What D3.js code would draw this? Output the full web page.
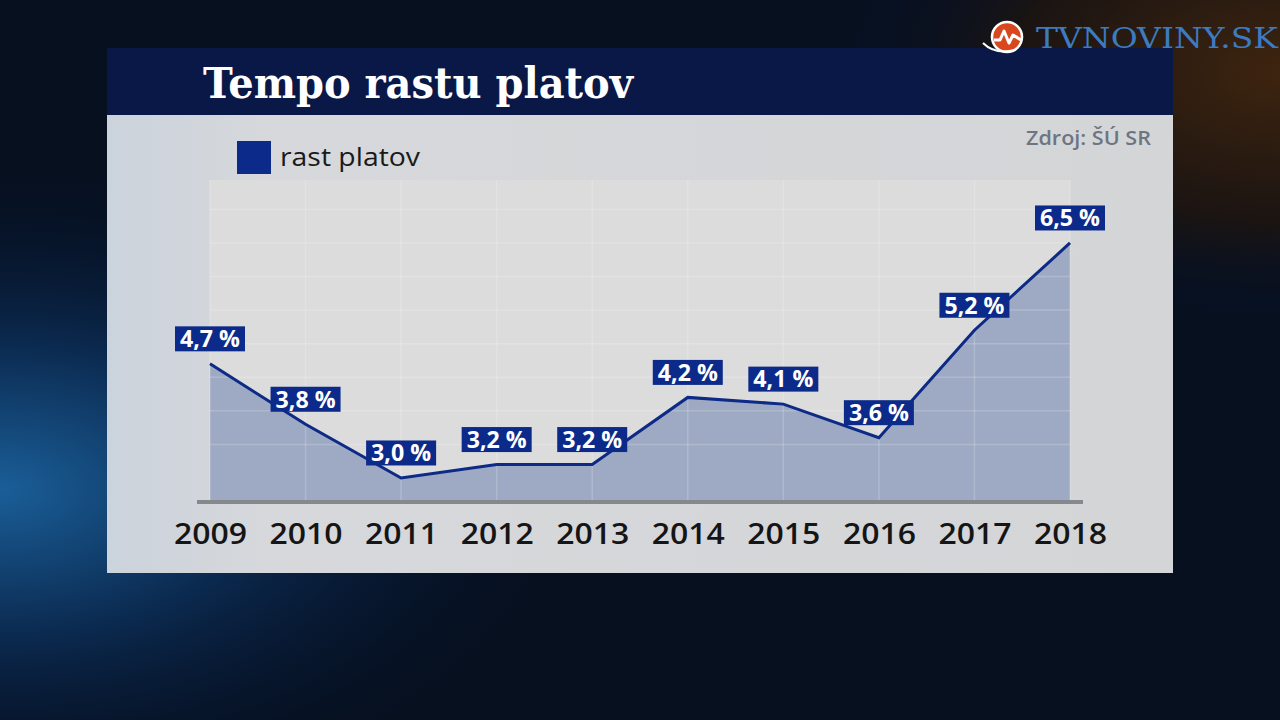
<!DOCTYPE html>
<html lang="sk">
<head>
    <meta charset="utf-8">
    <script src="https://d3js.org/d3.v7.min.js"></script>
    <style>
        body { margin: 0; background: #06112a; overflow: hidden; }
    </style>
</head>
<body>
    <svg id="chart"></svg>

    <script type="text/javascript" charset="utf-8">
        // data
        const years = ["2009", "2010", "2011", "2012", "2013", "2014", "2015", "2016", "2017", "2018"];
        const rastPlatov = [4.7, 3.8, 3.0, 3.2, 3.2, 4.2, 4.1, 3.6, 5.2, 6.5];
        const gridValues = [3.5, 4.0, 4.5, 5.0, 5.5, 6.0, 6.5, 7.0];

        const W = 1280, H = 720;
        const svg = d3.select("#chart").attr("width", W).attr("height", H);
        const defs = svg.append("defs");

        // background glows
        const glowBlue = defs.append("radialGradient").attr("id", "glowBlue")
            .attr("cx", 0).attr("cy", 0.68).attr("r", 0.45);
        glowBlue.append("stop").attr("offset", "0%").attr("stop-color", "#1a5e98");
        glowBlue.append("stop").attr("offset", "45%").attr("stop-color", "#0b2a50");
        glowBlue.append("stop").attr("offset", "100%").attr("stop-color", "#06112a").attr("stop-opacity", 0);

        const glowBrown = defs.append("radialGradient").attr("id", "glowBrown")
            .attr("cx", 1).attr("cy", 0.1).attr("r", 0.35);
        glowBrown.append("stop").attr("offset", "0%").attr("stop-color", "#3e240f");
        glowBrown.append("stop").attr("offset", "60%").attr("stop-color", "#1a1412");
        glowBrown.append("stop").attr("offset", "100%").attr("stop-color", "#06112a").attr("stop-opacity", 0);

        svg.append("rect").attr("width", W).attr("height", H).attr("fill", "#06101f");
        svg.append("rect").attr("width", W).attr("height", H).attr("fill", "url(#glowBrown)");
        svg.append("rect").attr("width", W).attr("height", H).attr("fill", "url(#glowBlue)");

        // panel
        const panelGrad = defs.append("linearGradient").attr("id", "panelGrad")
            .attr("x1", 0).attr("x2", 1).attr("y1", 0).attr("y2", 0);
        panelGrad.append("stop").attr("offset", "0%").attr("stop-color", "#cbd3dc");
        panelGrad.append("stop").attr("offset", "15%").attr("stop-color", "#d6d8db");
        panelGrad.append("stop").attr("offset", "100%").attr("stop-color", "#d4d5d7");

        svg.append("rect").attr("x", 107).attr("y", 115).attr("width", 1066).attr("height", 458)
            .attr("fill", "url(#panelGrad)");

        // title bar
        svg.append("rect").attr("x", 107).attr("y", 48).attr("width", 1066).attr("height", 67)
            .attr("fill", "#0a1848");
        svg.append("text")
            .attr("x", 203).attr("y", 98)
            .attr("font-family", "DejaVu Serif")
            .attr("font-weight", "bold")
            .attr("font-size", 42)
            .attr("textLength", 430)
            .attr("lengthAdjust", "spacingAndGlyphs")
            .attr("fill", "#ffffff")
            .text("Tempo rastu platov");

        // logo
        const logo = svg.append("g");
        logo.append("circle").attr("cx", 1007).attr("cy", 37).attr("r", 15).attr("fill", "#d8471e")
            .attr("stroke", "#ffffff").attr("stroke-width", 2.5);
        logo.append("path").attr("d", "M994,40 L1000,40 L1004,31 L1009,43 L1013,35 L1021,40")
            .attr("fill", "none").attr("stroke", "#ffffff").attr("stroke-width", 3)
            .attr("stroke-linejoin", "round");
        logo.append("path").attr("d", "M983,43 Q995,55 1015,50")
            .attr("fill", "none").attr("stroke", "#ffffff").attr("stroke-width", 2);
        logo.append("text")
            .attr("x", 1036).attr("y", 48)
            .attr("font-family", "DejaVu Serif")
            .attr("font-size", 27)
            .attr("textLength", 242)
            .attr("lengthAdjust", "spacingAndGlyphs")
            .attr("fill", "#3c7bc2")
            .text("TVNOVINY.SK");

        // scales
        const x = d3.scalePoint().domain(years).range([210, 1070]);
        const y = d3.scaleLinear().domain([2.672, 7.438]).range([500, 180]);

        // plot background
        svg.append("rect").attr("x", 210).attr("y", 180).attr("width", 860).attr("height", 320)
            .attr("fill", "#dcdcdc");

        const data = years.map((yr, i) => ({ year: yr, value: rastPlatov[i] }));

        // area
        const area = d3.area()
            .x(d => x(d.year))
            .y0(y(2.672))
            .y1(d => y(d.value));
        svg.append("path").datum(data).attr("d", area).attr("fill", "#9eaac4");

        // grid
        const grid = svg.append("g").attr("stroke", "#ffffff").attr("stroke-opacity", 0.18).attr("stroke-width", 1.5);
        grid.selectAll(".vg").data(years).enter().append("line")
            .attr("x1", d => x(d)).attr("x2", d => x(d))
            .attr("y1", 180).attr("y2", 500);
        grid.selectAll(".hg").data(gridValues).enter().append("line")
            .attr("x1", 210).attr("x2", 1070)
            .attr("y1", d => y(d)).attr("y2", d => y(d));

        // baseline
        svg.append("line").attr("x1", 197).attr("x2", 1083).attr("y1", 502).attr("y2", 502)
            .attr("stroke", "#85888d").attr("stroke-width", 4);

        // line
        const line = d3.line().x(d => x(d.year)).y(d => y(d.value));
        svg.append("path").datum(data).attr("d", line)
            .attr("fill", "none").attr("stroke", "#0c2a86").attr("stroke-width", 3)
            .attr("stroke-linejoin", "miter");

        // x axis labels
        const xAxis = svg.append("g")
            .attr("transform", "translate(0,510)")
            .call(d3.axisBottom(x).tickSize(0).tickPadding(0));
        xAxis.select(".domain").remove();
        xAxis.selectAll("text")
            .attr("dy", "1.22em")
            .attr("font-family", "Open Sans")
            .attr("font-weight", 600)
            .attr("font-size", 28)
            .attr("textLength", 73)
            .attr("lengthAdjust", "spacingAndGlyphs")
            .attr("fill", "#151515");

        // value labels
        const labels = svg.selectAll(".lbl").data(data).enter().append("g")
            .attr("class", "lbl")
            .attr("transform", d => `translate(${x(d.year)},${y(d.value) - 25})`);
        labels.append("rect")
            .attr("x", -35).attr("y", -12.5).attr("width", 70).attr("height", 25)
            .attr("fill", "#0c2a8a");
        labels.append("text")
            .attr("text-anchor", "middle")
            .attr("dy", "0.36em")
            .attr("font-family", "Open Sans")
            .attr("font-weight", "bold")
            .attr("font-size", 23)
            .attr("textLength", 60)
            .attr("lengthAdjust", "spacingAndGlyphs")
            .attr("fill", "#ffffff")
            .text(d => d.value.toFixed(1).replace(".", ",") + " %");

        // legend
        svg.append("rect").attr("x", 237).attr("y", 141).attr("width", 34).attr("height", 33)
            .attr("fill", "#0c2a8a");
        svg.append("text").attr("x", 280).attr("y", 166)
            .attr("font-family", "Open Sans")
            .attr("font-weight", 500)
            .attr("font-size", 25)
            .attr("textLength", 140)
            .attr("lengthAdjust", "spacingAndGlyphs")
            .attr("fill", "#1a1a1a")
            .text("rast platov");

        // source
        svg.append("text").attr("x", 1151).attr("y", 145)
            .attr("text-anchor", "end")
            .attr("font-family", "Open Sans")
            .attr("font-weight", 600)
            .attr("font-size", 20)
            .attr("textLength", 125)
            .attr("lengthAdjust", "spacingAndGlyphs")
            .attr("fill", "#6d7583")
            .text("Zdroj: ŠÚ SR");
    </script>
</body>
</html>
